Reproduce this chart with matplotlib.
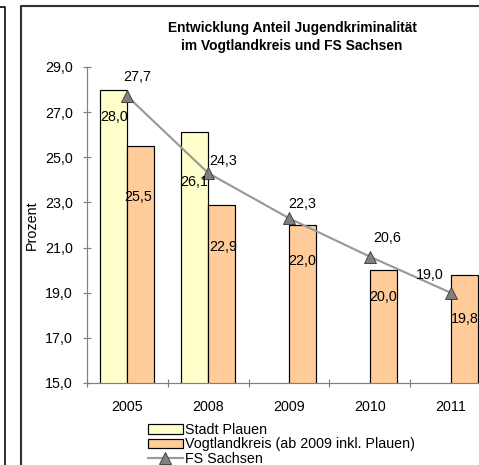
import numpy as np
import matplotlib
matplotlib.use("Agg")
import matplotlib.pyplot as plt
from matplotlib.lines import Line2D
from matplotlib.patches import Patch
from matplotlib.ticker import FuncFormatter, FixedLocator

# ---- data ----
years = ['2005', '2008', '2009', '2010', '2011']
stadt_plauen = [28.0, 26.1, np.nan, np.nan, np.nan]
vogtlandkreis = [25.5, 22.9, 22.0, 20.0, 19.8]
fs_sachsen = [27.7, 24.3, 22.3, 20.6, 19.0]

title_lines = ['Entwicklung Anteil Jugendkriminalität', 'im Vogtlandkreis und FS Sachsen']
y_label = 'Prozent'
legend_labels = ['Stadt Plauen', 'Vogtlandkreis (ab 2009 inkl. Plauen)', 'FS Sachsen']
y_ticks = [15.0, 17.0, 19.0, 21.0, 23.0, 25.0, 27.0, 29.0]

# label offsets in pixels (dx right, dy down) relative to point / bar top
fs_off = [(10, -19), (15, -12), (13, -14), (17, -19), (-21, -18)]
stadt_off = [(0, 27), (0, 50), None, None, None]
vogt_off = [(-3, 51), (1, 42), (0, 36), (0, 27), (1, 44)]

# ---- style ----
W, H, DPI = 479, 465, 96
FS = 10.7
plt.rcParams['font.family'] = ['Liberation Sans', 'DejaVu Sans']
plt.rcParams['font.size'] = FS
c_stadt = '#FFFFCC'
c_vogt = '#FFCC99'
c_line = '#999999'
c_marker = '#808080'
c_axis = '#808080'

fig = plt.figure(figsize=(W / DPI, H / DPI), dpi=DPI)
fig.patch.set_facecolor('white')

# axes: y axis at x=87px, 15 at y=383px, 29 at y=67px, category width ~80.8px
ax_l, ax_r, ax_t, ax_b = 87, 87 + 5 * 80.8, 67, 383
ax = fig.add_axes([ax_l / W, 1 - ax_b / H, (ax_r - ax_l) / W, (ax_b - ax_t) / H])
ax.set_facecolor('none')

x = np.arange(len(years))
bw = 0.334
ax.bar(x - bw / 2, stadt_plauen, width=bw, color=c_stadt,
       edgecolor='black', linewidth=0.9, zorder=2)
ax.bar(x + bw / 2, vogtlandkreis, width=bw, color=c_vogt,
       edgecolor='black', linewidth=0.9, zorder=2)
ax.plot(x, fs_sachsen, color=c_line, linewidth=1.6, marker='^', markersize=8.5,
        markerfacecolor=c_marker, markeredgecolor='#404040', markeredgewidth=0.7, zorder=3)

ax.set_xlim(-0.5, len(years) - 0.5)
ax.set_ylim(15, 29)


def fmt(v):
    return f"{v:.1f}".replace('.', ',')


for i, v in enumerate(fs_sachsen):
    dx, dy = fs_off[i]
    ax.annotate(fmt(v), (x[i], v), xytext=(dx, -dy), textcoords='offset pixels',
                ha='center', va='center', fontsize=FS, zorder=5)
for i, v in enumerate(stadt_plauen):
    if np.isnan(v):
        continue
    dx, dy = stadt_off[i]
    ax.annotate(fmt(v), (x[i] - bw / 2, v), xytext=(dx, -dy), textcoords='offset pixels',
                ha='center', va='center', fontsize=FS, zorder=5)
for i, v in enumerate(vogtlandkreis):
    dx, dy = vogt_off[i]
    ax.annotate(fmt(v), (x[i] + bw / 2, v), xytext=(dx, -dy), textcoords='offset pixels',
                ha='center', va='center', fontsize=FS, zorder=5)

# spines
for s in ['top', 'right']:
    ax.spines[s].set_visible(False)
for s in ['left', 'bottom']:
    ax.spines[s].set_color(c_axis)
    ax.spines[s].set_linewidth(0.9)

ax.set_yticks(y_ticks)
ax.yaxis.set_major_formatter(FuncFormatter(lambda v, p: fmt(v)))
ax.tick_params(axis='y', direction='inout', length=6, width=0.9, color=c_axis,
               pad=7.5, labelsize=FS)
ax.set_xticks(x)
ax.set_xticklabels(years)
ax.tick_params(axis='x', which='major', length=0, pad=12.5, labelsize=FS)
ax.xaxis.set_minor_locator(FixedLocator(np.arange(len(years) + 1) - 0.5))
ax.tick_params(axis='x', which='minor', direction='inout', length=6, width=0.9, color=c_axis)

fig.text(32 / W, 1 - 225 / H, y_label, rotation=90, ha='center', va='center', fontsize=FS)

# title
fig.text(292 / W, 1 - 28 / H, title_lines[0], ha='center', va='center', fontsize=10.3, fontweight='bold')
fig.text(292 / W, 1 - 46 / H, title_lines[1], ha='center', va='center', fontsize=10.3, fontweight='bold')

# legend
handles = [
    Patch(facecolor=c_stadt, edgecolor='black', linewidth=0.9),
    Patch(facecolor=c_vogt, edgecolor='black', linewidth=0.9),
    Line2D([0], [0], color=c_line, linewidth=1.6, marker='^', markersize=8.5,
           markerfacecolor=c_marker, markeredgecolor='#404040', markeredgewidth=0.7),
]
fig.legend(handles, legend_labels, loc='upper left', bbox_to_anchor=(148 / W, 1 - 423 / H),
           frameon=False, borderpad=0, borderaxespad=0, labelspacing=0.02,
           handlelength=2.45, handleheight=0.6, handletextpad=0.15, fontsize=FS)

# chart frames (neighbouring chart edge and this chart's border)
fig.add_artist(Line2D([5 / W, 5 / W, 0], [0, 1 - 7 / H, 1 - 7 / H], color='black',
                      linewidth=1.2, transform=fig.transFigure))
fig.add_artist(Line2D([20.5 / W, 20.5 / W, 1], [0, 1 - 5.5 / H, 1 - 5.5 / H], color='#333333',
                      linewidth=1.6, transform=fig.transFigure))

fig.savefig('out.png', dpi=DPI)
